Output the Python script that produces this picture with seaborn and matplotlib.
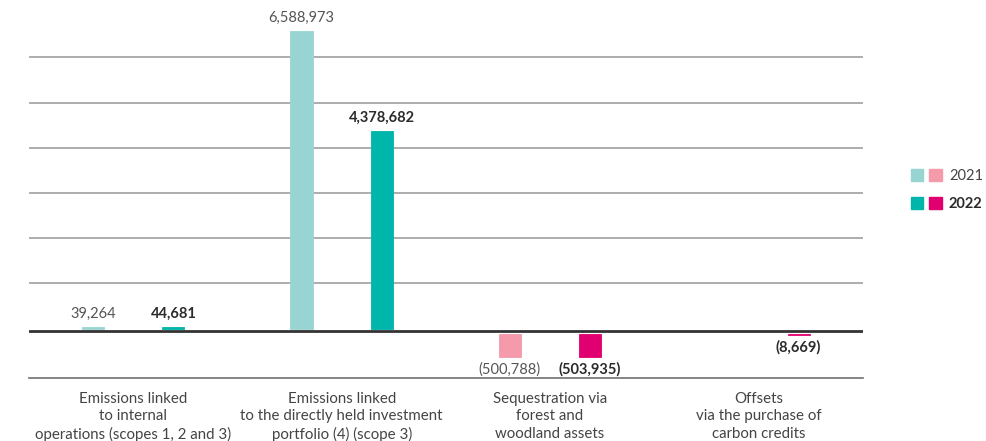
import numpy as np
import pandas as pd
import matplotlib
matplotlib.use("Agg")
import matplotlib.pyplot as plt
import matplotlib.transforms as mtransforms
import seaborn as sns
from matplotlib.patches import Patch
from matplotlib.legend_handler import HandlerTuple

categories = [
    "Emissions linked\nto internal\noperations (scopes 1, 2 and 3)",
    "Emissions linked\nto the directly held investment\nportfolio (4) (scope 3)",
    "Sequestration via\nforest and\nwoodland assets",
    "Offsets\nvia the purchase of\ncarbon credits",
]
years = ["2021", "2022"]
values_2021 = [39264, 6588973, -500788, np.nan]
values_2022 = [44681, 4378682, -503935, -8669]

emission_colors = ["#98D5D2", "#00B5AA"]
removal_colors = ["#F49AAA", "#E0006F"]

rows = []
for c, v1, v2 in zip(categories, values_2021, values_2022):
    rows.append((c, "2021", v1))
    rows.append((c, "2022", v2))
df = pd.DataFrame(rows, columns=["category", "year", "value"]).dropna()
pos = df[df["category"].isin(categories[:2])]
neg = df[df["category"].isin(categories[2:])]

sns.set_theme(style="white")
plt.rcParams["font.family"] = ["Lato", "DejaVu Sans"]

fig = plt.figure(figsize=(9.87, 4.41), dpi=100)
ax = fig.add_axes([0.0294, 0.1422, 0.8446, 0.8304])

common = dict(x="category", y="value", hue="year", order=categories,
              hue_order=years, dodge=True, width=0.77, gap=0.725,
              legend=False, ax=ax, saturation=1, errorbar=None)
sns.barplot(data=pos, palette=emission_colors, **common)
sns.barplot(data=neg, palette=removal_colors, **common)

# negative bars drawn a little below the zero line (display-space offset)
neg_gap_pt = 4.0
for p in ax.patches:
    p.set_edgecolor(p.get_facecolor())
    p.set_linewidth(0.6)
    p.set_zorder(3)
    if p.get_height() < 0:
        off = mtransforms.ScaledTranslation(0, -neg_gap_pt / 72, fig.dpi_scale_trans)
        p.set_transform(ax.transData + off)


def fmt(v):
    return f"({abs(v):,.0f})" if v < 0 else f"{v:,.0f}"


for i, cont in enumerate(ax.containers):
    labels = [fmt(v) for v in cont.datavalues]
    pad = 4 + (neg_gap_pt if np.nanmin(cont.datavalues) < 0 else 0)
    texts = ax.bar_label(cont, labels=labels, padding=pad, fontsize=10.5)
    bold = (i % 2 == 1)
    for t in texts:
        t.set_color("#2b2b2b" if bold else "#555555")
        t.set_fontweight("bold" if bold else "normal")

ax.set_ylim(-1.1e6, 7.0e6)
ax.set_xlim(-0.5, 3.5)
ax.set_yticks([1e6, 2e6, 3e6, 4e6, 5e6, 6e6])
ax.set_yticklabels([])
ax.yaxis.grid(True, color="#a0a0a0", lw=1.2)
ax.set_axisbelow(True)
zero = ax.axhline(0, color="#333333", lw=2.0, zorder=2)
zero.set_transform(zero.get_transform() +
                   mtransforms.ScaledTranslation(0, -1.7 / 72, fig.dpi_scale_trans))
for s in ["top", "left", "right"]:
    ax.spines[s].set_visible(False)
ax.spines["bottom"].set_color("#707070")
ax.spines["bottom"].set_linewidth(1.2)
ax.set_xlabel("")
ax.set_ylabel("")
ax.tick_params(axis="x", length=0, pad=10, labelsize=10.8, labelcolor="#444444")
ax.tick_params(axis="y", length=0)
for t in ax.get_xticklabels():
    t.set_linespacing(1.3)

h2021 = (Patch(color=emission_colors[0]), Patch(color=removal_colors[0]))
h2022 = (Patch(color=emission_colors[1]), Patch(color=removal_colors[1]))
leg = fig.legend([h2021, h2022], years, handler_map={tuple: HandlerTuple(ndivide=None, pad=0.4)},
                 loc="center left", bbox_to_anchor=(0.923, 0.569), frameon=False,
                 handlelength=2.1, handleheight=0.85, handletextpad=0.5,
                 labelspacing=1.0, borderpad=0, borderaxespad=0, fontsize=10.5)
for t, w in zip(leg.get_texts(), ["normal", "bold"]):
    t.set_fontweight(w)
    t.set_color("#444444" if w == "normal" else "#2b2b2b")

fig.savefig("out.png", dpi=100)
